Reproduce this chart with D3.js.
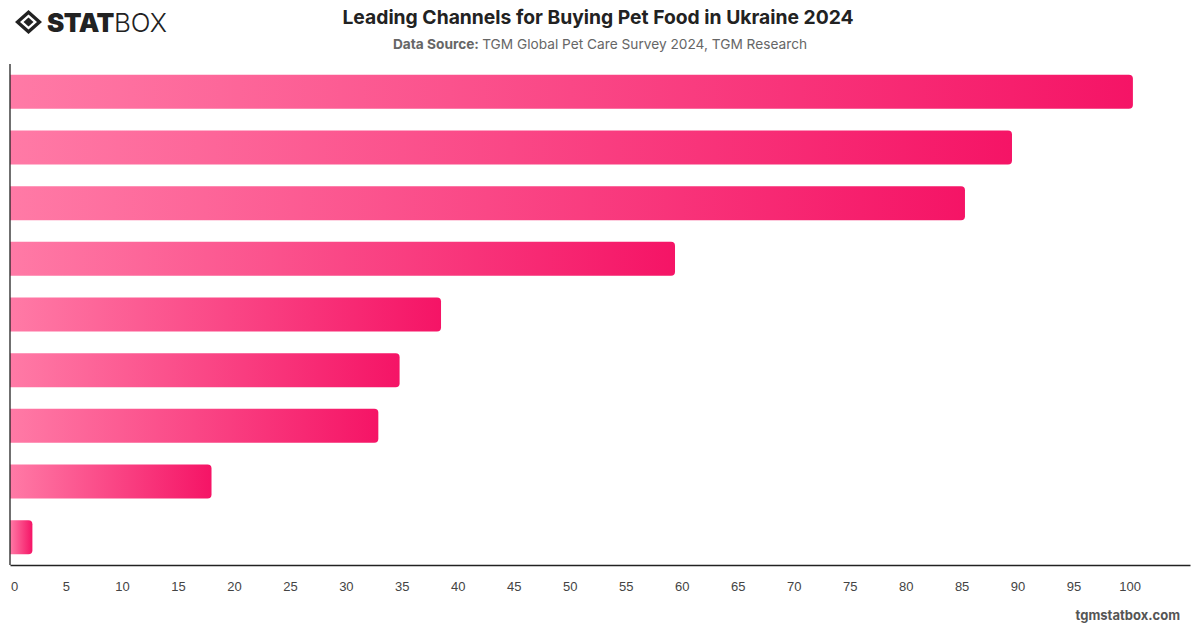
<!DOCTYPE html>
<html>
<head>
<meta charset="utf-8">
<script src="https://cdn.jsdelivr.net/npm/d3@7"></script>
<style>
  body { margin: 0; background: #fff; }
  svg { display: block; font-family: Inter, "Helvetica Neue", Arial, sans-serif; }
</style>
</head>
<body>
<div id="chart"></div>
<script>
// values (category labels are hidden in the chart)
var channels = ['Channel 1', 'Channel 2', 'Channel 3', 'Channel 4', 'Channel 5',
  'Channel 6', 'Channel 7', 'Channel 8', 'Channel 9'];
var shares = [100.3, 89.5, 85.3, 59.4, 38.5, 34.8, 32.9, 18, 2];
var xTicks = [0, 5, 10, 15, 20, 25, 30, 35, 40, 45, 50, 55, 60, 65, 70, 75, 80, 85, 90, 95, 100];

var width = 1200, height = 628;
var margin = { top: 64, right: 10, bottom: 63, left: 10 };

var svg = d3.select('#chart').append('svg')
  .attr('width', width)
  .attr('height', height);

var defs = svg.append('defs');
var grad = defs.append('linearGradient')
  .attr('id', 'barGrad')
  .attr('x1', '0%').attr('x2', '100%')
  .attr('y1', '0%').attr('y2', '0%');
grad.append('stop').attr('offset', '0%').attr('stop-color', '#ff7aa6');
grad.append('stop').attr('offset', '100%').attr('stop-color', '#f51466');

var x = d3.scaleLinear()
  .domain([0, 105.4])
  .range([margin.left, width - margin.right]);

var y = d3.scaleBand()
  .domain(channels)
  .range([margin.top, height - margin.bottom])
  .paddingInner(0.39)
  .paddingOuter(0.195);

// bars, rounded on the right end only
var r = 4;
svg.append('g').selectAll('path')
  .data(channels)
  .join('path')
  .attr('fill', 'url(#barGrad)')
  .attr('d', function (d, i) {
    var x0 = x(0), x1 = x(shares[i]), y0 = y(d), h = y.bandwidth();
    return 'M' + x0 + ',' + y0 +
      'H' + (x1 - r) +
      'Q' + x1 + ',' + y0 + ' ' + x1 + ',' + (y0 + r) +
      'V' + (y0 + h - r) +
      'Q' + x1 + ',' + (y0 + h) + ' ' + (x1 - r) + ',' + (y0 + h) +
      'H' + x0 + 'Z';
  });

// axes
var xAxis = svg.append('g')
  .attr('transform', 'translate(0,' + (height - margin.bottom) + ')')
  .call(d3.axisBottom(x).tickValues(xTicks).tickSize(0).tickPadding(17));
xAxis.select('.domain').attr('stroke', '#222').attr('stroke-width', 1.3);
xAxis.selectAll('text')
  .attr('fill', '#444')
  .style('font-size', '13px')
  .attr('dx', function (d) { return d === 0 ? '4' : '0'; });

svg.append('line')
  .attr('x1', x(0)).attr('x2', x(0))
  .attr('y1', margin.top).attr('y2', height - margin.bottom)
  .attr('stroke', '#222').attr('stroke-width', 1.3);

// title + source
svg.append('text')
  .attr('x', 598).attr('y', 24)
  .attr('text-anchor', 'middle')
  .attr('fill', '#222')
  .style('font-size', '19.3px')
  .style('font-weight', 700)
  .text('Leading Channels for Buying Pet Food in Ukraine 2024');

var src = svg.append('text')
  .attr('x', 600).attr('y', 49)
  .attr('text-anchor', 'middle')
  .attr('fill', '#666')
  .style('font-size', '13.7px');
src.append('tspan').style('font-weight', 700).text('Data Source: ');
src.append('tspan').text('TGM Global Pet Care Survey 2024, TGM Research');

// logo
var logo = svg.append('g').attr('transform', 'translate(15,10)');
logo.append('path')
  .attr('d', 'M0,12 L13.5,0 L27,12 L13.5,24 Z M5,12 L13.5,4.5 L22,12 L13.5,19.5 Z')
  .attr('fill', '#222')
  .attr('fill-rule', 'evenodd');
logo.append('path')
  .attr('d', 'M8.5,12 L13.5,7.5 L18.5,12 L13.5,16.5 Z')
  .attr('fill', '#222');
var logoText = logo.append('text')
  .attr('x', 32).attr('y', 22)
  .attr('fill', '#222')
  .style('font-size', '26px');
logoText.append('tspan').style('font-weight', 900).attr('letter-spacing', '-0.5').text('STAT');
logoText.append('tspan').style('font-weight', 300).text('BOX');

// footer
svg.append('text')
  .attr('x', 1180).attr('y', 620)
  .attr('text-anchor', 'end')
  .attr('fill', '#555')
  .style('font-size', '13px')
  .style('font-weight', 700)
  .text('tgmstatbox.com');
</script>
</body>
</html>
